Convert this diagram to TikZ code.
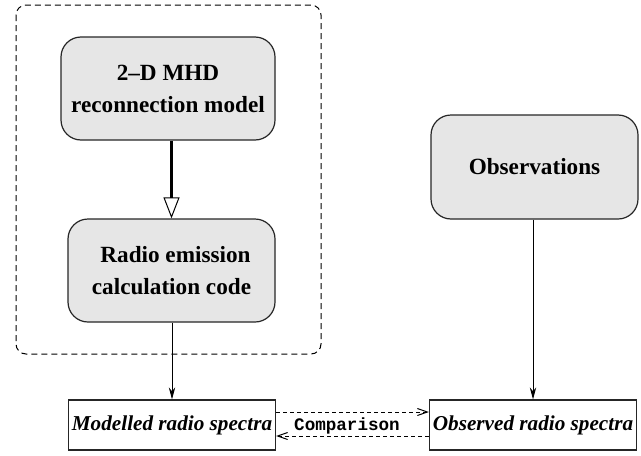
\documentclass[tikz,border=0pt]{standalone}
\usepackage{fontspec}
\setmainfont{Liberation Serif}
\setmonofont{Liberation Mono}
\usetikzlibrary{arrows.meta}
\definecolor{boxgray}{HTML}{E6E6E6}
\tikzset{
  roundbox/.style={draw=black!85, line width=0.6pt, fill=boxgray, rounded corners=10pt,
    align=center, inner sep=0pt, font=\fontsize{11.6}{16}\selectfont\bfseries},
  specbox/.style={draw=black!85, line width=0.6pt, fill=white, inner sep=0pt,
    minimum width=103.5pt, minimum height=25pt, font=\fontsize{10.6}{13}\selectfont\bfseries\itshape},
  thinarrow/.style={line width=0.5pt, -{Stealth[length=6pt,width=3.2pt]}},
  cmparrow/.style={line width=0.5pt, dash pattern=on 2pt off 1.5pt, -{Straight Barb[length=5pt,width=3.5pt]}},
}
\begin{document}
\begin{tikzpicture}[x=0.5pt,y=-0.5pt]
\useasboundingbox (0,0) rectangle (641,455);
\draw[line width=0.5pt, dash pattern=on 3pt off 2pt, rounded corners=5pt] (16,5) rectangle (321,354);
\node[roundbox, minimum width=107pt, minimum height=51.5pt] (mhd) at (168,88.5) {2--D MHD\\reconnection model};
\node[roundbox, minimum width=103.5pt, minimum height=51.5pt] (radio) at (171.5,270.5) {\hspace*{4pt}Radio emission\\calculation code};
\node[roundbox, minimum width=103.5pt, minimum height=52pt] (obs) at (534.5,167) {Observations};
\node[specbox] (mod) at (172,425) {Modelled radio spectra};
\node[specbox] (obsspec) at (533,425) {Observed radio spectra};
\draw[line width=1.4pt, -{Triangle[open,length=10.5pt,width=8pt,line width=0.5pt]}] (radio.north |- mhd.south) -- (radio.north);
\draw[thinarrow] (radio.south -| mod.north) -- (mod.north);
\draw[thinarrow] (obs.south -| obsspec.north) -- (obsspec.north);
\draw[cmparrow] ([yshift=6.5pt]mod.east) -- ([yshift=6.5pt]obsspec.west);
\draw[cmparrow] ([yshift=-5.5pt]obsspec.west) -- ([yshift=-5.5pt]mod.east);
\node[font=\fontsize{8.8}{11}\selectfont\ttfamily\bfseries] (cmp) at (347,426) {Comparison};
\end{tikzpicture}
\end{document}
